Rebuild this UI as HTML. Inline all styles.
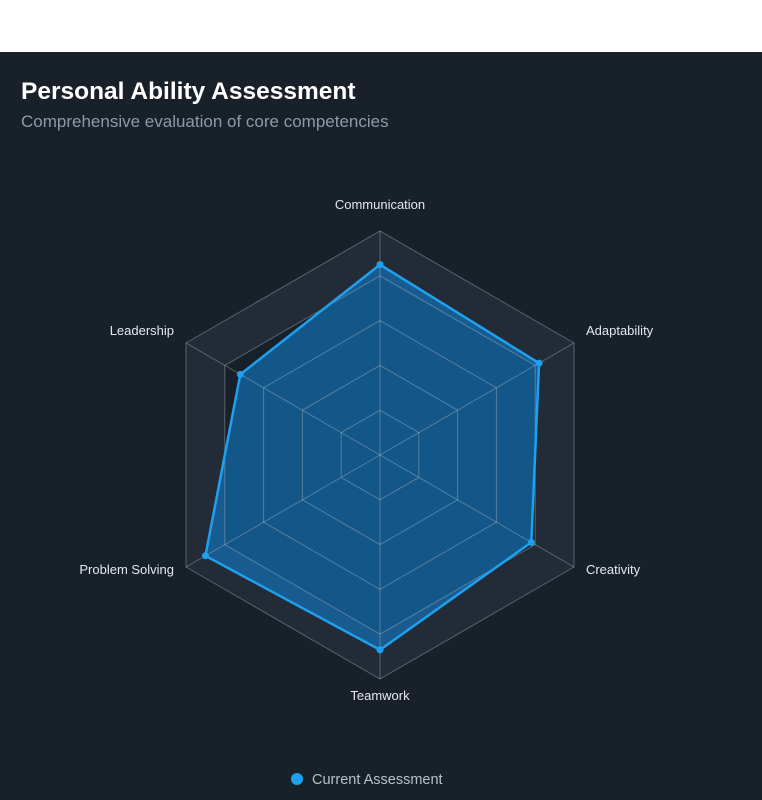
<!DOCTYPE html>
<html><head><meta charset="utf-8"><style>
html,body{margin:0;padding:0;}
body{width:762px;height:800px;background:#fff;font-family:"Liberation Sans",sans-serif;overflow:hidden;position:relative;}
#panel{position:absolute;left:0;top:52px;width:762px;height:748px;background:#18202a;}
#title{position:absolute;left:21px;top:26px;font-size:24.5px;font-weight:bold;color:#fff;margin:0;}
#subtitle{position:absolute;left:21px;top:60px;font-size:17px;color:#8f99a6;}
svg{position:absolute;left:0;top:0;}
</style></head><body>
<div id="panel">
<div id="title">Personal Ability Assessment</div>
<div id="subtitle">Comprehensive evaluation of core competencies</div>
</div>
<svg id="chart" width="762" height="800"></svg>
<script>
const categories = ["Communication","Adaptability","Creativity","Teamwork","Problem Solving","Leadership"];
const values = [85, 82, 78, 87, 90, 72];
const maxValue = 100;
const levels = [20, 40, 60, 80, 100];
const legendLabel = "Current Assessment";

const NS="http://www.w3.org/2000/svg";
const svg=document.getElementById('chart');
const cx=380, cy=455, R=224;
function ang(i){return -Math.PI/2 + i*2*Math.PI/categories.length;}
function pt(i,v){const r=v/maxValue*R;return [cx+r*Math.cos(ang(i)), cy+r*Math.sin(ang(i))];}
function mk(tag,attrs){const e=document.createElementNS(NS,tag);for(const k in attrs)e.setAttribute(k,attrs[k]);svg.appendChild(e);return e;}
function poly(v){return categories.map((c,i)=>pt(i,v).join(',')).join(' ');}

const band=mk('polygon',{points:poly(levels[levels.length-1]),fill:'#232b36',stroke:'none'});


const inner=mk('polygon',{points:poly(levels[levels.length-2]),fill:'#18202a',stroke:'none'});



const area=mk('polygon',{points:categories.map((c,i)=>pt(i,values[i]).join(',')).join(' '),fill:'rgba(14,140,230,0.5)',stroke:'none'});



levels.forEach(l=>{
  const g=mk('polygon',{points:poly(l),fill:'none',stroke:'rgba(180,190,200,0.4)','stroke-width':1});
  
  
});
categories.forEach((c,i)=>{
  const p=pt(i,maxValue);
  const a=mk('line',{x1:cx,y1:cy,x2:p[0],y2:p[1],stroke:'rgba(180,190,200,0.4)','stroke-width':1});
  
  
});

const line=mk('polygon',{points:categories.map((c,i)=>pt(i,values[i]).join(',')).join(' '),fill:'none',stroke:'#1ea0f0','stroke-width':2.5,'stroke-linejoin':'round'});


categories.forEach((c,i)=>{
  const p=pt(i,values[i]);
  const d=mk('circle',{cx:p[0],cy:p[1],r:3.5,fill:'#1ea0f0'});
  
  
});

categories.forEach((c,i)=>{
  const a=ang(i), cs=Math.cos(a), sn=Math.sin(a);
  let anchor='middle'; if(cs>0.1)anchor='start'; else if(cs<-0.1)anchor='end';
  let x=cs>0.1?cx+R*0.866+12:(cs<-0.1?cx-R*0.866-12:cx);
  let y;
  if(i===0) y=cy-R-22; else if(i===3) y=cy+R+21;
  else y=cy+R*sn+(sn<0?-8:7);
  const t=mk('text',{x:x,y:y,'text-anchor':anchor,fill:'#e4e8ee','font-size':13,'font-family':'Liberation Sans, sans-serif'});
  t.textContent=c;
  
  
});

const lc=mk('circle',{cx:297,cy:779,r:6,fill:'#1ea0f0'});


const lt=mk('text',{x:312,y:784,fill:'#b8c0ca','font-size':14.5,'font-family':'Liberation Sans, sans-serif'});
lt.textContent=legendLabel;


</script>
</body></html>
